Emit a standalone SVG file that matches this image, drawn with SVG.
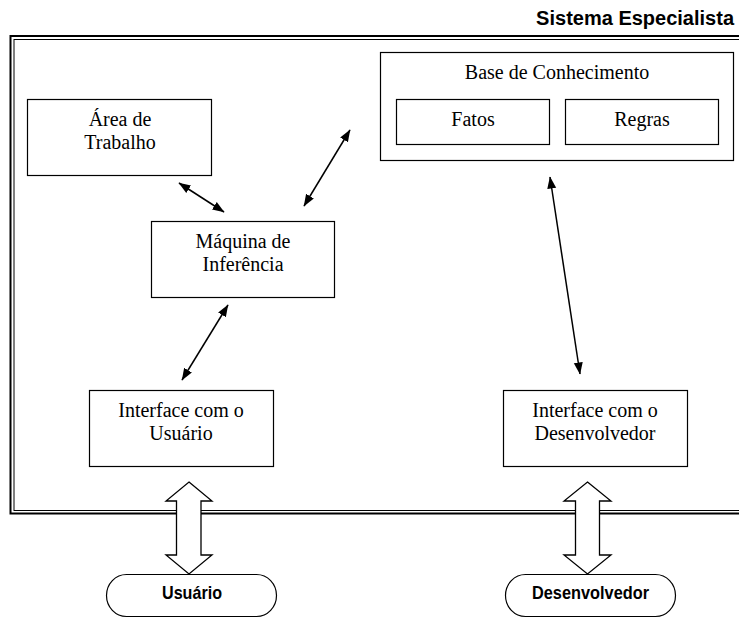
<svg xmlns="http://www.w3.org/2000/svg" width="739" height="619" viewBox="0 0 739 619">
<style>
.box{fill:#fff;stroke:#000;stroke-width:1.2}
.lbl{font-family:"Liberation Serif","Times New Roman",serif;font-size:20px;fill:#000;text-anchor:middle}
.bold{font-family:"Liberation Sans",Arial,sans-serif;font-weight:bold;fill:#000}
.conn{stroke:#000;stroke-width:1.5;fill:none;marker-start:url(#ah);marker-end:url(#ah)}
.block{fill:#fff;stroke:#000;stroke-width:1.3;stroke-linejoin:miter}
</style>
<defs>
<marker id="ah" markerUnits="userSpaceOnUse" markerWidth="13" markerHeight="10" refX="11.5" refY="4.5" orient="auto-start-reverse">
<path d="M0,0 L12,4.5 L0,9 z" fill="#000"/>
</marker>
</defs>
<rect width="739" height="619" fill="#fff"/>
<g id="frame">
<rect x="10.5" y="36" width="740" height="477.5" fill="none" stroke="#000" stroke-width="2"/>
<rect x="14" y="39.5" width="740" height="471" fill="none" stroke="#000" stroke-width="1"/>
<text class="bold" x="734" y="25" font-size="20" text-anchor="end">Sistema Especialista</text>
</g>
<g id="area-trabalho">
<rect class="box" x="27.5" y="99.5" width="184" height="76"/>
<text class="lbl" x="120" y="126">Área de</text>
<text class="lbl" x="120" y="149">Trabalho</text>
</g>
<g id="base-conhecimento">
<rect class="box" x="380.5" y="52.5" width="353" height="108"/>
<text class="lbl" x="557" y="79">Base de Conhecimento</text>
</g>
<g id="fatos">
<rect class="box" x="396.5" y="99.5" width="153" height="45"/>
<text class="lbl" x="473" y="126">Fatos</text>
</g>
<g id="regras">
<rect class="box" x="565.5" y="99.5" width="153" height="45"/>
<text class="lbl" x="642" y="126">Regras</text>
</g>
<g id="maquina-inferencia">
<rect class="box" x="151.5" y="221.5" width="183" height="76"/>
<text class="lbl" x="243" y="248">Máquina de</text>
<text class="lbl" x="243" y="271">Inferência</text>
</g>
<g id="interface-usuario">
<rect class="box" x="89.5" y="390.5" width="184" height="76"/>
<text class="lbl" x="181" y="417">Interface com o</text>
<text class="lbl" x="181" y="440">Usuário</text>
</g>
<g id="interface-desenvolvedor">
<rect class="box" x="503.5" y="390.5" width="184" height="76"/>
<text class="lbl" x="595" y="417">Interface com o</text>
<text class="lbl" x="595" y="440">Desenvolvedor</text>
</g>
<g id="connectors">
<line class="conn" x1="179" y1="183" x2="224" y2="212"/>
<line class="conn" x1="304" y1="206" x2="350" y2="130"/>
<line class="conn" x1="228" y1="305" x2="182" y2="380"/>
<line class="conn" x1="550" y1="177" x2="580" y2="374"/>
<path class="block" d="M189,482 L212,501 L201,501 L201,555 L212,555 L189,574 L166,555 L176.5,555 L176.5,501 L166,501 Z"/>
<path class="block" d="M587.5,482 L611,501 L599.5,501 L599.5,555 L611,555 L587.5,574 L564,555 L575.5,555 L575.5,501 L564,501 Z"/>
</g>
<g id="usuario">
<rect class="box" x="106.5" y="574.5" width="170" height="42" rx="20" ry="21"/>
<text class="bold" x="192" y="599" font-size="18.5" text-anchor="middle" textLength="60" lengthAdjust="spacingAndGlyphs">Usuário</text>
</g>
<g id="desenvolvedor">
<rect class="box" x="505.5" y="574.5" width="170" height="42" rx="20" ry="21"/>
<text class="bold" x="590.5" y="599" font-size="18.5" text-anchor="middle" textLength="117" lengthAdjust="spacingAndGlyphs">Desenvolvedor</text>
</g>
</svg>
